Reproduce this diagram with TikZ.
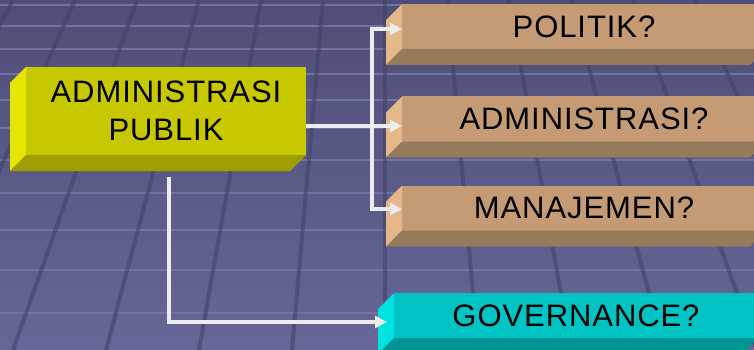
\documentclass[tikz,border=0pt]{standalone}
\usepackage{fontspec}
\usepackage{tikz}
\usetikzlibrary{arrows.meta,calc}
\newfontfamily\kotakfont[LetterSpace=3]{Liberation Sans}
\definecolor{fondoatas}{RGB}{78,78,118}
\definecolor{fondobawah}{RGB}{102,102,152}
\definecolor{garis}{RGB}{114,114,166}
\definecolor{lantai}{RGB}{66,66,104}
\definecolor{kuning}{RGB}{200,200,0}
\definecolor{kuningsisi}{RGB}{230,230,0}
\definecolor{kuningbawah}{RGB}{158,158,0}
\definecolor{coklat}{RGB}{196,155,116}
\definecolor{coklatsisi}{RGB}{228,184,136}
\definecolor{coklatbawah}{RGB}{150,122,92}
\definecolor{toska}{RGB}{0,196,196}
\definecolor{toskasisi}{RGB}{0,226,226}
\definecolor{toskabawah}{RGB}{0,148,148}
\definecolor{putih}{RGB}{236,236,236}
\newcommand{\balok}[3]{%
	\fill[#2] (#1.north west) -- ++(-16,16) -- ($(#1.south west)+(-16,16)$) -- (#1.south west) -- cycle;
	\fill[#3] (#1.south west) -- ++(-16,16) -- ($(#1.south east)+(-16,16)$) -- (#1.south east) -- cycle;}

\begin{document}
\begin{tikzpicture}[x = 1pt, y = -1pt,
		kotak/.style = {inner sep = 0pt, outer sep = 0pt, align = center, text = black,
			font = \kotakfont\fontsize{31}{38}\selectfont},
		pilihan/.style = {kotak, fill = coklat, minimum width = 364pt, minimum height = 45pt},
		datar/.style = {garis, line width = 2pt},
		tegak/.style = {lantai, line width = 4pt, opacity = 0.6},
		panah/.style = {putih, line width = 3.5pt, -{Triangle[length=12pt, width=12pt]}}]
	\useasboundingbox (0,0) rectangle (754,350);
	\clip (0,0) rectangle (754,350);
	\shade[top color = fondoatas, bottom color = fondobawah] (0,0) rectangle (754,350);
	\foreach \y in {5,26,49,74,100,128,160,193,230,270,313}
		\draw[datar] (0,\y) -- (754,\y);
	\foreach \k in {-7,...,7}
		\draw[tegak] ({385+62*\k},0) -- ({385+93*\k},350);
	\node[kotak, fill = kuning, minimum width = 280pt, minimum height = 88pt] (publik) at (166,111) {ADMINISTRASI\\PUBLIK};
	\node[pilihan] (politik) at (584,26.5) {POLITIK?};
	\node[pilihan] (admin) at (584,119) {ADMINISTRASI?};
	\node[pilihan] (manajemen) at (584,208) {MANAJEMEN?};
	\node[kotak, fill = toska, minimum width = 364pt, minimum height = 45pt] (governance) at (576,315.5) {GOVERNANCE?};
	\balok{publik}{kuningsisi}{kuningbawah}
	\balok{politik}{coklatsisi}{coklatbawah}
	\balok{admin}{coklatsisi}{coklatbawah}
	\balok{manajemen}{coklatsisi}{coklatbawah}
	\balok{governance}{toskasisi}{toskabawah}
	\coordinate (cabang) at (372,126);
	\draw[panah] ($(publik.east)+(0,15)$) -- ($(admin.west)+(0,7)$);
	\draw[panah] (cabang) |- ($(politik.west)+(0,2.5)$);
	\draw[panah] (cabang) |- ($(manajemen.west)+(0,1)$);
	\draw[panah] ($(publik.south)+(3,22)$) |- ($(governance.west)+(-7,6.5)$);
\end{tikzpicture}
\end{document}
